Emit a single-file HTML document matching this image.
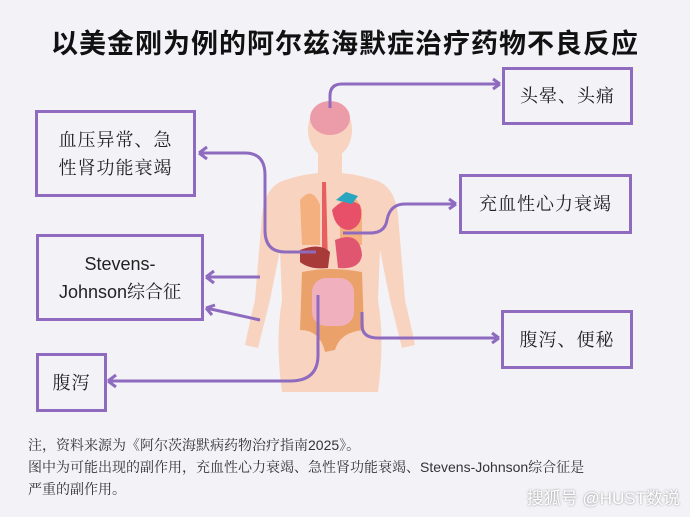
<!DOCTYPE html>
<html><head><meta charset="utf-8"><style>
body{margin:0;width:690px;height:517px;background:#f3f2f7;position:relative;overflow:hidden;font-family:"Liberation Sans","Noto Sans CJK SC",sans-serif}
.t{position:absolute;left:0;width:690px;top:22px;text-align:center;font-size:27px;font-weight:bold;color:#111;letter-spacing:1px;font-family:"Liberation Sans","Noto Sans CJK SC",sans-serif}
.b{position:absolute;border:3px solid #8e6bbf;box-sizing:border-box;display:flex;align-items:center;justify-content:center;text-align:center;font-size:18px;line-height:28px;color:#222;font-family:"Liberation Serif","Noto Serif CJK SC",serif;letter-spacing:1px}
.n{position:absolute;left:28px;top:434px;font-size:14px;line-height:22px;color:#333;font-family:"Liberation Sans","Noto Serif CJK SC",serif}
.w{position:absolute;right:10px;top:484px;font-size:17px;color:#fff;text-shadow:0 0 2px #888}
</style></head><body>
<div class="t">以美金刚为例的阿尔兹海默症治疗药物不良反应</div>
<svg width="690" height="517" style="position:absolute;left:0;top:0">
<g fill="#f8d3c0">
<ellipse cx="330" cy="130" rx="22" ry="28"/>
<rect x="318" y="145" width="24" height="35"/>
<path d="M285 180 Q330 165 375 180 Q395 186 398 215 L405 300 Q412 330 415 345 L402 348 L390 300 L380 250 L378 300 Q385 340 378 392 L282 392 Q275 340 282 300 L280 250 L270 300 L258 348 L245 345 Q248 330 255 300 L262 215 Q265 186 285 180Z"/>
</g>
<ellipse cx="330" cy="118" rx="20" ry="17" fill="#ec9ba8"/>
<path d="M300 200 Q312 185 320 205 L320 245 L302 245Z" fill="#f4b07e"/>
<path d="M340 200 Q355 190 362 210 L362 245 L340 245Z" fill="#f4b07e"/>
<path d="M322 182 L326 182 L328 265 L322 265Z" fill="#e66060"/>
<path d="M332 210 Q345 195 360 205 Q365 225 350 230 Q335 230 332 210Z" fill="#e8506a"/>
<path d="M336 200 l10 -8 l12 4 l-6 8z" fill="#2ba6c0"/>
<path d="M300 250 Q320 242 330 252 L328 268 Q310 270 300 262Z" fill="#a83a3a"/>
<path d="M335 240 Q360 230 362 255 Q360 270 338 268Z" fill="#e05570"/>
<path d="M302 272 Q330 266 362 272 L364 330 Q340 332 335 350 L325 352 Q320 330 300 330Z" fill="#eaa26a"/>
<rect x="312" y="278" width="42" height="48" rx="14" fill="#f0b0bd"/>
<g fill="none" stroke="#8e6bbf" stroke-width="3">
<path d="M330 108 L330 96 Q330 84 342 84 L500 84"/>
<path d="M500 84 l-7 -5 M500 84 l-7 5"/>
<path d="M199 153 L245 153 Q265 153 265 175 L265 230 Q265 252 285 252 L316 252"/>
<path d="M199 153 l8 -6 M199 153 l8 6"/>
<path d="M343 233 L370 233 Q385 233 387 220 Q390 204 405 204 L456 204"/>
<path d="M456 204 l-7 -5 M456 204 l-7 5"/>
<path d="M260 277 L206 277 M206 277 l8 -6 M206 277 l8 6"/>
<path d="M260 320 L206 308 M206 308 l9 -3 M206 308 l6 7"/>
<path d="M318 295 L318 355 Q318 381 290 381 L108 381"/>
<path d="M108 381 l8 -6 M108 381 l8 6"/>
<path d="M362 312 L362 325 Q362 338 378 338 L499 338"/>
<path d="M499 338 l-7 -5 M499 338 l-7 5"/>
</g>
</svg>
<div class="b" style="left:502px;top:67px;width:131px;height:58px">头晕、头痛</div>
<div class="b" style="left:35px;top:110px;width:161px;height:87px">血压异常、急<br>性肾功能衰竭</div>
<div class="b" style="left:459px;top:174px;width:173px;height:60px">充血性心力衰竭</div>
<div class="b" style="left:36px;top:234px;width:168px;height:87px;letter-spacing:0;font-family:'Liberation Sans','Noto Serif CJK SC',sans-serif">Stevens-<br>Johnson综合征</div>
<div class="b" style="left:501px;top:310px;width:132px;height:59px">腹泻、便秘</div>
<div class="b" style="left:36px;top:353px;width:71px;height:59px">腹泻</div>
<div class="n">注，资料来源为《阿尔茨海默病药物治疗指南2025》。<br>图中为可能出现的副作用，充血性心力衰竭、急性肾功能衰竭、Stevens-Johnson综合征是<br>严重的副作用。</div>
<div class="w">搜狐号 @HUST数说</div>
</body></html>
